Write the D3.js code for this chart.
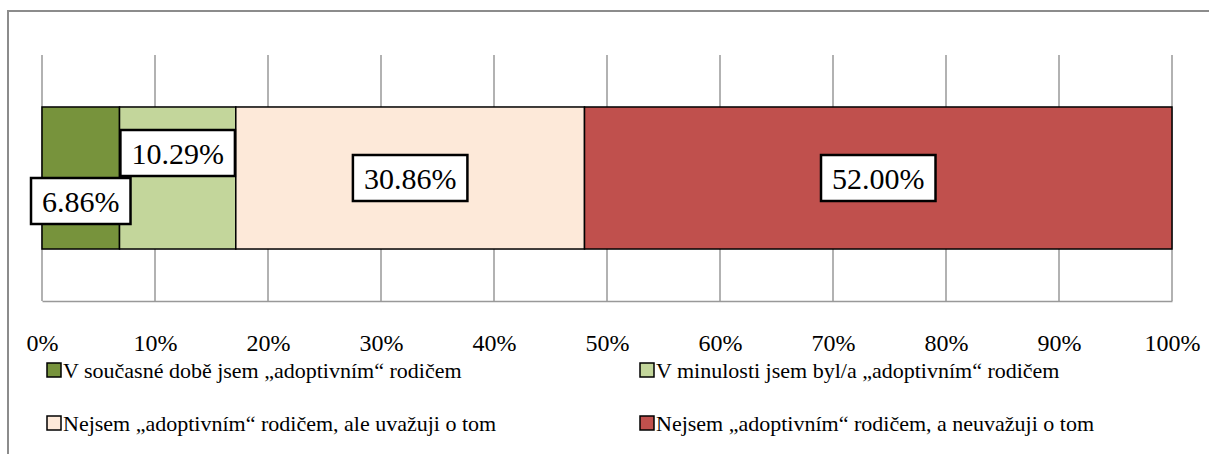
<!DOCTYPE html>
<html>
<head>
<meta charset="utf-8">
<script src="https://cdn.jsdelivr.net/npm/d3@7"></script>
<style>
  html, body { margin: 0; padding: 0; background: #fff; }
  svg { display: block; }
  svg text { font-family: "Liberation Serif", "Tinos", "Times New Roman", Times, "Noto Serif", "DejaVu Serif", FreeSerif, serif; }
</style>
</head>
<body>
<svg id="chart" width="1209" height="454"></svg>
<script>
const categories = [
  "V současné době jsem „adoptivním“ rodičem",
  "V minulosti jsem byl/a „adoptivním“ rodičem",
  "Nejsem „adoptivním“ rodičem, ale uvažuji o tom",
  "Nejsem „adoptivním“ rodičem, a neuvažuji o tom"
];
const values = [6.86, 10.29, 30.86, 52.00];
const colors = ["#77933C", "#C3D69B", "#FDE9D9", "#C0504D"];
const tickValues = [0, 10, 20, 30, 40, 50, 60, 70, 80, 90, 100];
const tickLabels = ["0%", "10%", "20%", "30%", "40%", "50%", "60%", "70%", "80%", "90%", "100%"];

const svg = d3.select("#chart");

// outer chart border
svg.append("rect")
  .attr("x", 8).attr("y", 11)
  .attr("width", 1220).attr("height", 460)
  .attr("fill", "none").attr("stroke", "#8c8c8c").attr("stroke-width", 2);

const x = d3.scaleLinear().domain([0, 100]).range([42, 1172]);
const y = d3.scaleBand().domain(["all"]).range([55, 301]).paddingInner(0).paddingOuter(0.366);

// gridlines
svg.append("g").selectAll("line").data(tickValues).join("line")
  .attr("x1", d => x(d)).attr("x2", d => x(d))
  .attr("y1", 55).attr("y2", 301)
  .attr("stroke", "#999").attr("stroke-width", 1.5);

// bottom axis
const axis = d3.axisBottom(x).tickValues(tickValues)
  .tickFormat((d, i) => tickLabels[i]).tickSize(0).tickPadding(0);
const gAxis = svg.append("g").attr("transform", "translate(0,301)").call(axis)
  .attr("font-family", null);
gAxis.select(".domain").attr("stroke", "#999").attr("stroke-width", 1.5);
gAxis.selectAll("text")
  .attr("y", 50).attr("dy", 0)
  .attr("font-size", 24).attr("fill", "#000");

// stacked segments
let acc = 0;
const segs = values.map((v, i) => { const s = { i, v, x0: acc, x1: acc + v }; acc += v; return s; });
const by = y("all"), bh = y.bandwidth();

svg.append("g").selectAll("rect").data(segs).join("rect")
  .attr("x", d => x(d.x0)).attr("y", by)
  .attr("width", d => x(Math.min(d.x1, 100)) - x(d.x0)).attr("height", bh)
  .attr("fill", (d) => colors[d.i]).attr("stroke", "#000").attr("stroke-width", 1.5);

// data labels
const lbl = svg.append("g");
let narrowCount = 0;
segs.forEach(d => {
  const cx = (x(d.x0) + x(Math.min(d.x1, 100))) / 2;
  let cy = by + bh / 2;
  if (d.v < 15) { cy += (narrowCount % 2 === 0 ? 23 : -25); narrowCount++; }
  const g = lbl.append("g");
  const t = g.append("text")
    .attr("x", cx).attr("y", cy).attr("dy", "0.35em")
    .attr("text-anchor", "middle").attr("font-size", 30).attr("fill", "#000")
    .text(d.v.toFixed(2) + "%");
  const bb = t.node().getBBox();
  const w = bb.width + 22, h = 46;
  g.insert("rect", "text")
    .attr("x", cx - w / 2).attr("y", cy - h / 2)
    .attr("width", w).attr("height", h)
    .attr("fill", "#fff").attr("stroke", "#000").attr("stroke-width", 2.5);
});

// legend
const legPos = [[47, 363], [640, 363], [47, 416], [640, 416]];
const leg = svg.append("g");
categories.forEach((c, i) => {
  const [lx, ly] = legPos[i];
  leg.append("rect").attr("x", lx).attr("y", ly).attr("width", 14).attr("height", 14)
    .attr("fill", colors[i]).attr("stroke", "#000").attr("stroke-width", 1.5);
  leg.append("text").attr("x", lx + 16).attr("y", ly + 15)
    .attr("font-size", 22).attr("fill", "#000").text(c);
});
</script>
</body>
</html>
